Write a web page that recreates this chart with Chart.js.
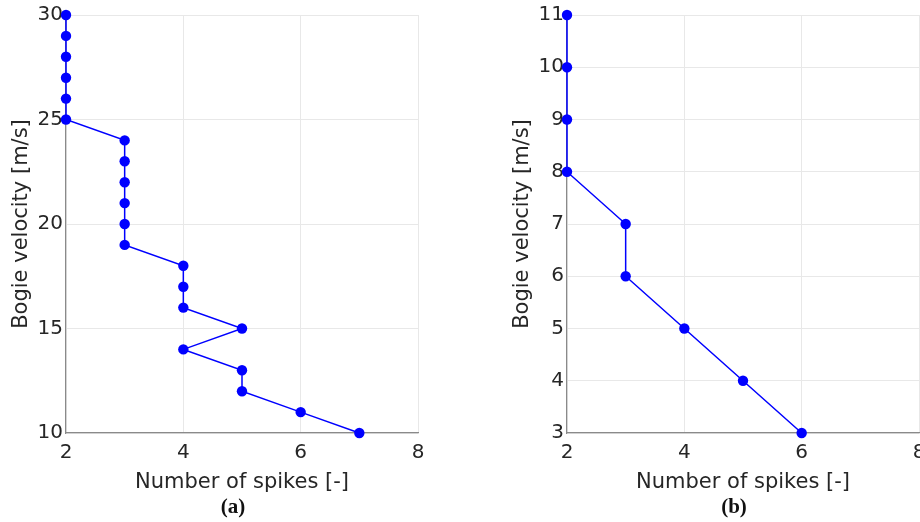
<!DOCTYPE html>
<html lang="en">
<head>
<meta charset="UTF-8">
<title>Bogie velocity vs number of spikes</title>
<script src="https://cdn.jsdelivr.net/npm/chart.js"></script>
<style>
    * { margin: 0; padding: 0; box-sizing: border-box; }
    html, body { width: 920px; height: 522px; overflow: hidden; background: #fff; }
    .panel { position: absolute; top: 0; width: 460px; height: 522px; }
    #panelA { left: 0; }
    #panelB { left: 501px; }
    .caption {
        position: absolute;
        top: 494px;
        font-family: "Liberation Serif", serif;
        font-weight: bold;
        font-size: 21px;
        color: #111;
        transform: translateX(-50%);
    }
</style>
</head>
<body>
<div class="panel" id="panelA"><canvas id="chartA" width="460" height="522"></canvas></div>
<div class="panel" id="panelB"><canvas id="chartB" width="460" height="522"></canvas></div>
<div class="caption" style="left:233px">(a)</div>
<div class="caption" style="left:734px">(b)</div>

<script>
// (a) speeds 30 -> 10 m/s
const speedA = [30, 29, 28, 27, 26, 25, 24, 23, 22, 21, 20, 19, 18, 17, 16, 15, 14, 13, 12, 11, 10];
const spikesA = [2, 2, 2, 2, 2, 2, 3, 3, 3, 3, 3, 3, 4, 4, 4, 5, 4, 5, 5, 6, 7];

// (b) speeds 11 -> 3 m/s
const speedB = [11, 10, 9, 8, 7, 6, 5, 4, 3];
const spikesB = [2, 2, 2, 2, 3, 3, 4, 5, 6];

const xTicks = [2, 4, 6, 8];
const yTicksA = [10, 15, 20, 25, 30];
const yTicksB = [3, 4, 5, 6, 7, 8, 9, 10, 11];

const xTitle = 'Number of spikes [-]';
const yTitle = 'Bogie velocity [m/s]';

const blue = '#0000ff';
const txt = '#262626';
const gridCol = '#e8e8e8';
const axisCol = '#8a8a8a';
const fontFam = '"DejaVu Sans", Arial, sans-serif';

function makeChart(id, xs, ys, yTicks) {
    const pts = xs.map((x, i) => ({ x: x, y: ys[i] }));
    const ymin = yTicks[0], ymax = yTicks[yTicks.length - 1];
    return new Chart(document.getElementById(id), {
        type: 'scatter',
        data: {
            datasets: [{
                data: pts,
                showLine: true,
                clip: false,
                borderColor: blue,
                backgroundColor: blue,
                borderWidth: 1.5,
                pointRadius: 5.2,
                pointHoverRadius: 5.2,
                pointBorderWidth: 0
            }]
        },
        options: {
            responsive: false,
            animation: false,
            events: [],
            layout: { padding: { top: 14, right: 42, left: 0, bottom: 0 } },
            plugins: { legend: { display: false }, tooltip: { enabled: false } },
            scales: {
                x: {
                    type: 'linear',
                    min: xTicks[0],
                    max: xTicks[xTicks.length - 1],
                    afterBuildTicks: s => { s.ticks = xTicks.map(v => ({ value: v })); },
                    afterFit: s => { s.height = 89; },
                    grid: { color: gridCol, drawTicks: false },
                    border: { color: axisCol, width: 1.2 },
                    ticks: { color: txt, padding: 8, font: { family: fontFam, size: 20 } },
                    title: {
                        display: true, text: xTitle, color: txt,
                        padding: { top: 4, bottom: 27 },
                        font: { family: fontFam, size: 21 }
                    }
                },
                y: {
                    type: 'linear',
                    min: ymin,
                    max: ymax,
                    afterBuildTicks: s => { s.ticks = yTicks.map(v => ({ value: v })); },
                    afterFit: s => { s.width = 66; },
                    grid: { color: gridCol, drawTicks: false },
                    border: { color: axisCol, width: 1.2 },
                    ticks: { color: txt, padding: 3, font: { family: fontFam, size: 20 } },
                    title: {
                        display: true, text: yTitle, color: txt,
                        padding: { top: 9, bottom: 0 },
                        font: { family: fontFam, size: 21 }
                    }
                }
            }
        }
    });
}

makeChart('chartA', spikesA, speedA, yTicksA);
makeChart('chartB', spikesB, speedB, yTicksB);
</script>
</body>
</html>
